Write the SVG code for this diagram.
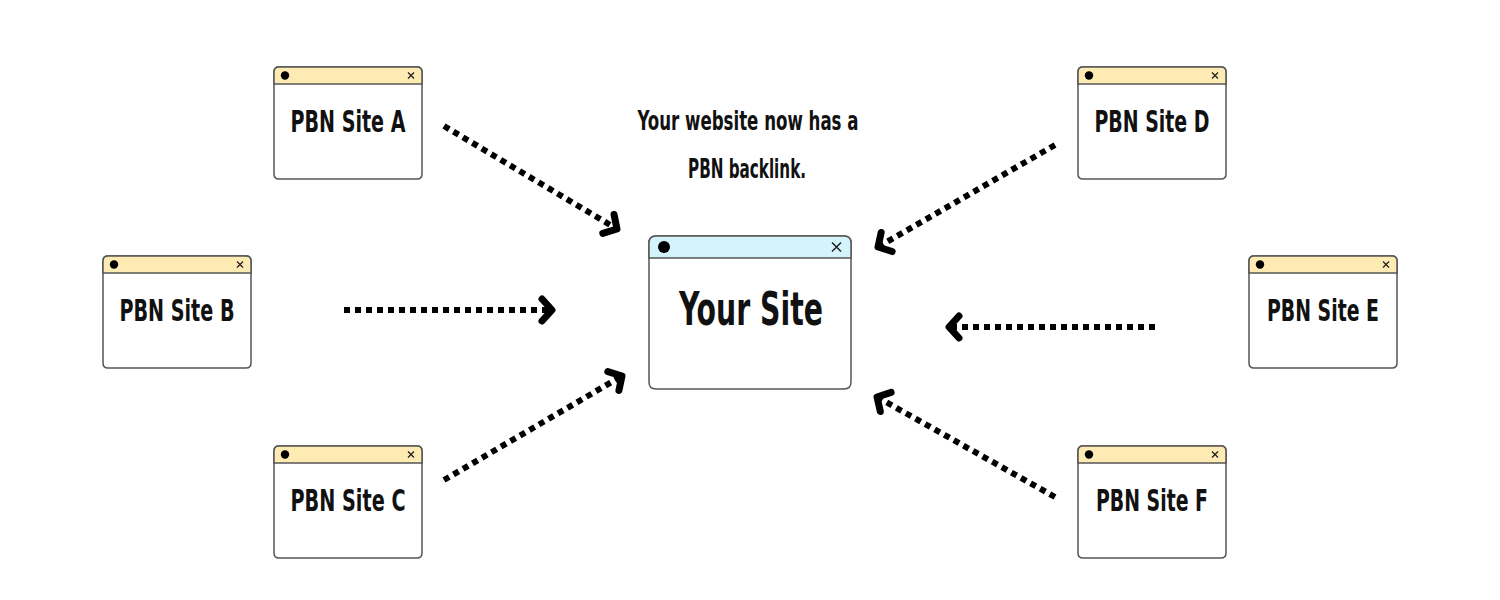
<svg xmlns="http://www.w3.org/2000/svg" width="1500" height="600" viewBox="0 0 1500 600">
<style>
.win{fill:#fff;stroke:#555;stroke-width:1.5}
.bar{fill:#fdebb3;stroke:#555;stroke-width:1.5}
.barb{fill:#d3f4fb;stroke:#555;stroke-width:1.5}
.x{stroke:#222;stroke-width:1.3;fill:none}
.lbl{font-family:"DejaVu Sans Condensed","Liberation Sans Narrow","Liberation Sans",sans-serif;font-weight:bold;fill:#111;text-anchor:middle}
.dot{stroke:#000;stroke-width:6;stroke-dasharray:6 5;fill:none}
.head{stroke:#000;stroke-width:7;stroke-linecap:round;stroke-linejoin:round;fill:none}
</style>
<defs>
<marker id="ah" markerUnits="userSpaceOnUse" markerWidth="34" markerHeight="34" refX="17" refY="17" orient="auto">
<path d="M7,6 L17,17 L7,28" class="head"/>
</marker>
<g id="small">
<path class="win" d="M5,0 H143 Q148,0 148,5 V107 Q148,112 143,112 H5 Q0,112 0,107 V5 Q0,0 5,0 Z"/>
<path class="bar" d="M5,0 H143 Q148,0 148,5 V17 H0 V5 Q0,0 5,0 Z"/>
<circle cx="11" cy="8.5" r="4.2" fill="#000"/>
<path class="x" d="M134,5.5 L140,11.5 M140,5.5 L134,11.5"/>
</g>
</defs>
<rect width="1500" height="600" fill="#fff"/>
<g id="connectors">
<line class="dot" x1="444" y1="126" x2="617" y2="229" marker-end="url(#ah)"/>
<line class="dot" x1="344" y1="310" x2="552" y2="310" marker-end="url(#ah)"/>
<line class="dot" x1="444" y1="480" x2="622" y2="376" marker-end="url(#ah)"/>
<line class="dot" x1="1055" y1="145" x2="878" y2="247" marker-end="url(#ah)"/>
<line class="dot" x1="1155" y1="327" x2="949" y2="327" marker-end="url(#ah)"/>
<line class="dot" x1="1055" y1="497" x2="877" y2="397" marker-end="url(#ah)"/>
</g>
<g id="siteA"><use href="#small" x="274" y="67"/><text class="lbl" x="348" y="132" font-size="31" textLength="115" lengthAdjust="spacingAndGlyphs">PBN Site A</text></g>
<g id="siteB"><use href="#small" x="103" y="256"/><text class="lbl" x="177" y="321" font-size="31" textLength="115" lengthAdjust="spacingAndGlyphs">PBN Site B</text></g>
<g id="siteC"><use href="#small" x="274" y="446"/><text class="lbl" x="348" y="511" font-size="31" textLength="115" lengthAdjust="spacingAndGlyphs">PBN Site C</text></g>
<g id="siteD"><use href="#small" x="1078" y="67"/><text class="lbl" x="1152" y="132" font-size="31" textLength="115" lengthAdjust="spacingAndGlyphs">PBN Site D</text></g>
<g id="siteE"><use href="#small" x="1249" y="256"/><text class="lbl" x="1323" y="321" font-size="31" textLength="112" lengthAdjust="spacingAndGlyphs">PBN Site E</text></g>
<g id="siteF"><use href="#small" x="1078" y="446"/><text class="lbl" x="1152" y="511" font-size="31" textLength="112" lengthAdjust="spacingAndGlyphs">PBN Site F</text></g>
<g id="yoursite">
<path class="win" d="M656,236 H844 Q851,236 851,243 V382 Q851,389 844,389 H656 Q649,389 649,382 V243 Q649,236 656,236 Z"/>
<path class="barb" d="M656,236 H844 Q851,236 851,243 V258 H649 V243 Q649,236 656,236 Z"/>
<circle cx="664" cy="247" r="6" fill="#000"/>
<path class="x" d="M832,242.5 L841,251.5 M841,242.5 L832,251.5" style="stroke-width:1.5"/>
<text class="lbl" x="751" y="325" font-size="46" textLength="144" lengthAdjust="spacingAndGlyphs">Your Site</text>
</g>
<g id="caption">
<text class="lbl" x="748" y="130" font-size="26" textLength="221" lengthAdjust="spacingAndGlyphs">Your website now has a</text>
<text class="lbl" x="747" y="178" font-size="26" textLength="118" lengthAdjust="spacingAndGlyphs">PBN backlink.</text>
</g>
</svg>
